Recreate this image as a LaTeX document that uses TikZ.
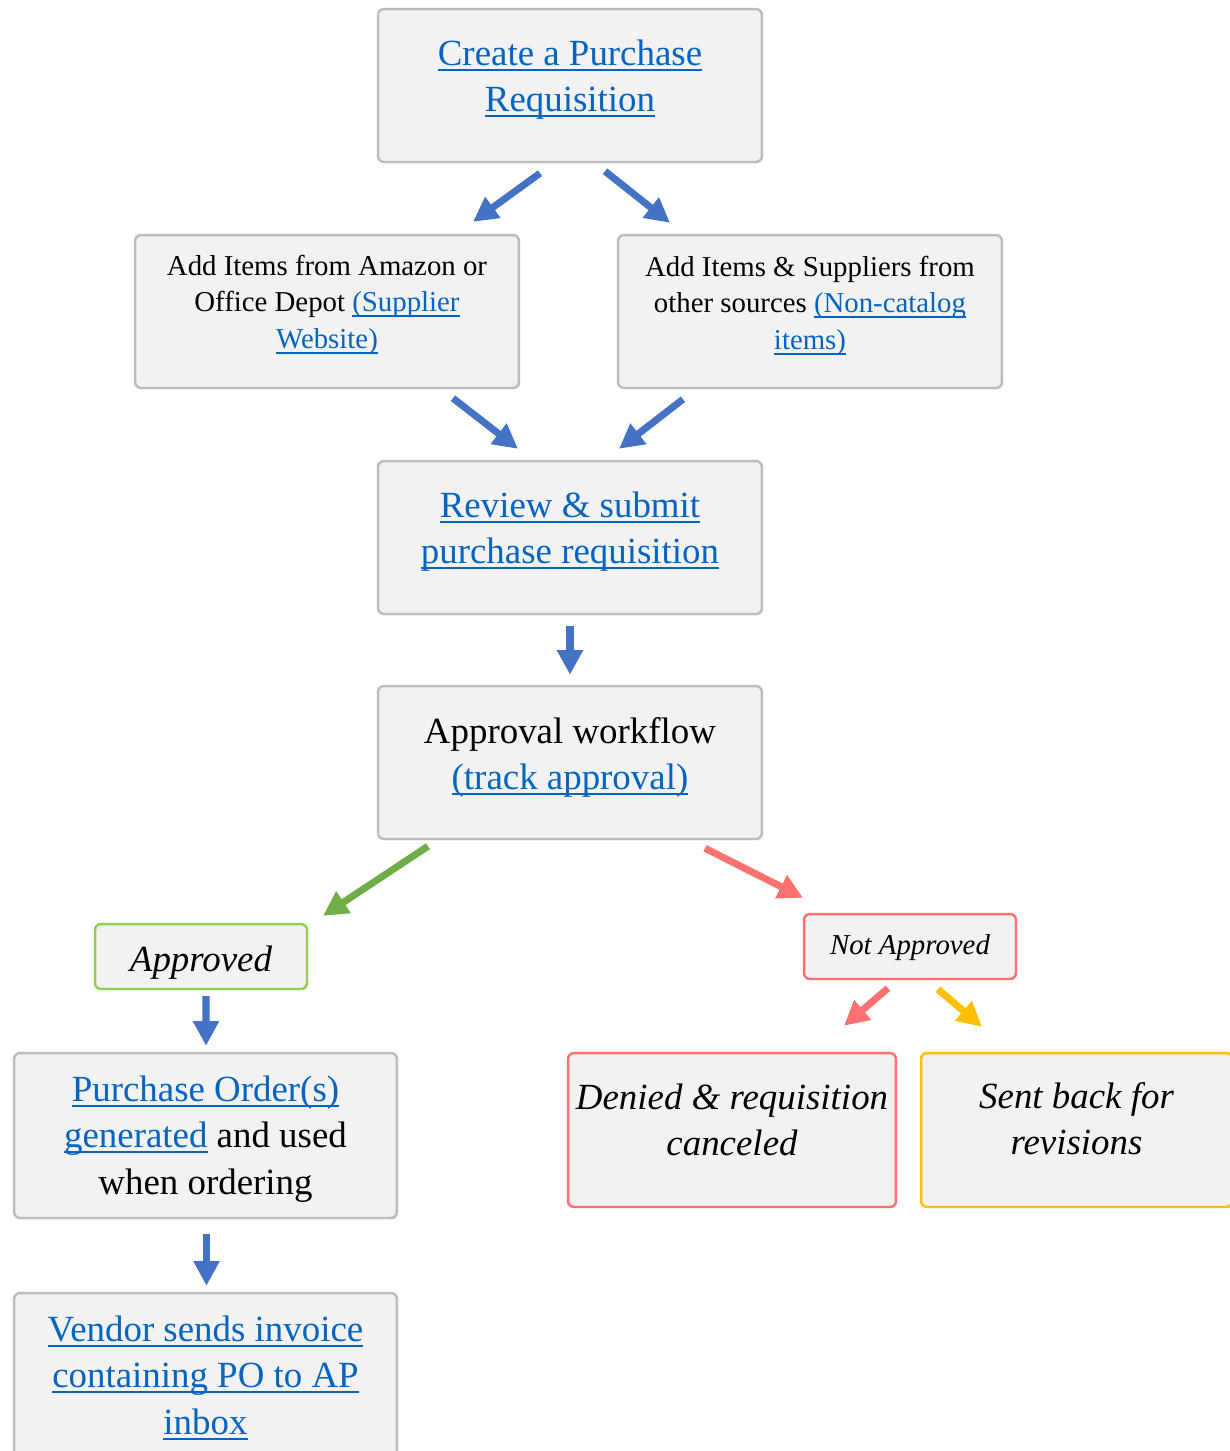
\documentclass[tikz,border=0pt]{standalone}
\usepackage{fontspec}
\setmainfont{Liberation Serif}
\usepackage{xcolor}
\usepackage{tikz}
\definecolor{boxfill}{HTML}{F2F2F2}
\definecolor{boxline}{HTML}{BDBDBD}
\definecolor{linkblue}{HTML}{0563C1}
\definecolor{arrblue}{HTML}{4472C4}
\definecolor{arrgreen}{HTML}{70AD47}
\definecolor{arrred}{HTML}{FF7171}
\definecolor{greenline}{HTML}{92D050}
\definecolor{yellowline}{HTML}{FFC000}
\usetikzlibrary{arrows.meta, calc, shadows}

\newsavebox{\lnkbox}
\newcommand{\lnk}[1]{{\color{linkblue}\sbox{\lnkbox}{#1}\rlap{\rule[-3.2pt]{\wd\lnkbox}{1.2pt}}\usebox{\lnkbox}}}
\newcommand{\bigtxt}{\fontsize{21pt}{26.4pt}\selectfont}
\newcommand{\smalltxt}{\fontsize{16.4pt}{20.7pt}\selectfont}

\tikzset{
	flowbox/.style={draw=boxline, fill=boxfill, line width=1.4pt, rounded corners=3.4pt, inner sep=0pt, align=center, font=\bigtxt,
		drop shadow={opacity=0.15, shadow xshift=0.6pt, shadow yshift=-0.8pt}},
	barrow/.style={line width=4pt, -{Triangle[length=14pt,width=14pt]}, arrblue},
}

\begin{document}
\begin{tikzpicture}[x=0.02cm, y=-0.02cm]
	\useasboundingbox (0,0) rectangle (1230,1451);
	\clip (0,0) rectangle (1230,1451);
	
	\node[flowbox, minimum width=7.68cm, text height=2.05cm, text depth=1.01cm] (req) at (570,85.5) {\lnk{Create a Purchase}\\\lnk{Requisition}};
	\node[flowbox, font=\smalltxt, minimum width=7.68cm, text height=2.26cm, text depth=0.8cm] (amz) at (327,311.5) {Add Items from Amazon or\\Office Depot \lnk{(Supplier}\\\lnk{Website)}};
	\node[flowbox, font=\smalltxt, minimum width=7.68cm, text height=2.28cm, text depth=0.78cm] (noncat) at (810,311.5) {Add Items \& Suppliers from\\other sources \lnk{(Non-catalog}\\\lnk{items)}};
	\node[flowbox, minimum width=7.68cm, text height=2.05cm, text depth=1.01cm] (rev) at (570,537.5) {\lnk{Review \& submit}\\\lnk{purchase requisition}};
	\node[flowbox, minimum width=7.68cm, text height=2.07cm, text depth=0.99cm] (wf) at (570,762.5) {Approval workflow\\\lnk{(track approval)}};
	
	\node[flowbox, draw=greenline, font=\bigtxt\itshape, minimum width=4.24cm, text height=0.94cm, text depth=0.36cm] (yes) at (201,956.5) {Approved};
	\node[flowbox, draw=arrred, font=\smalltxt\itshape, minimum width=4.24cm, text height=0.8cm, text depth=0.5cm] (no) at (910,946.5) {Not Approved};
	
	\node[flowbox, minimum width=7.66cm, text height=2.82cm, text depth=0.48cm] (po) at (205.5,1135.5) {\lnk{Purchase Order(s)}\\\lnk{generated} and used\\when ordering};
	\node[flowbox, minimum width=7.66cm, text height=2.82cm, text depth=0.48cm] (inv) at (205.5,1375.5) {\lnk{Vendor sends invoice}\\\lnk{containing PO to AP}\\\lnk{inbox}};
	\node[flowbox, draw=arrred, font=\bigtxt\itshape, minimum width=6.56cm, text height=2.05cm, text depth=1.03cm] (deny) at (732,1130) {Denied \& requisition\\canceled};
	\node[flowbox, draw=yellowline, font=\bigtxt\itshape, minimum width=6.22cm, text height=2.03cm, text depth=1.05cm] (back) at (1076.5,1130) {Sent back for\\revisions};
	
	\draw[barrow] ($(req.south)+(-30,10)$) -- ($(amz.north)+(146,-12)$);
	\draw[barrow] ($(req.south)+(35,8)$) -- ($(noncat.north)+(-140,-11)$);
	\draw[barrow] ($(amz.south)+(126,9)$) -- ($(rev.north)+(-52,-11)$);
	\draw[barrow] ($(noncat.south)+(-127,10)$) -- ($(rev.north)+(49,-11)$);
	\draw[barrow] ($(rev.south)+(0,11)$) -- ($(wf.north)+(0,-10)$);
	
	\draw[barrow, arrgreen] ($(wf.south)+(-142,6)$) -- ($(yes.north)+(122,-7)$);
	\draw[barrow, arrred] ($(wf.south)+(135,8)$) -- ($(no.north)+(-107,-15)$);
	\draw[barrow, arrred] ($(no.south)+(-22,8)$) -- ($(deny.north)+(112,-26)$);
	\draw[barrow, yellowline] ($(no.south)+(28,9)$) -- ($(back.north)+(-94.5,-25)$);
	
	\draw[barrow] ($(yes.south)+(5,6)$) -- ($(po.north)+(0.5,-6)$);
	\draw[barrow] ($(po.south)+(1,15)$) -- ($(inv.north)+(1,-6)$);
	
\end{tikzpicture}
\end{document}
